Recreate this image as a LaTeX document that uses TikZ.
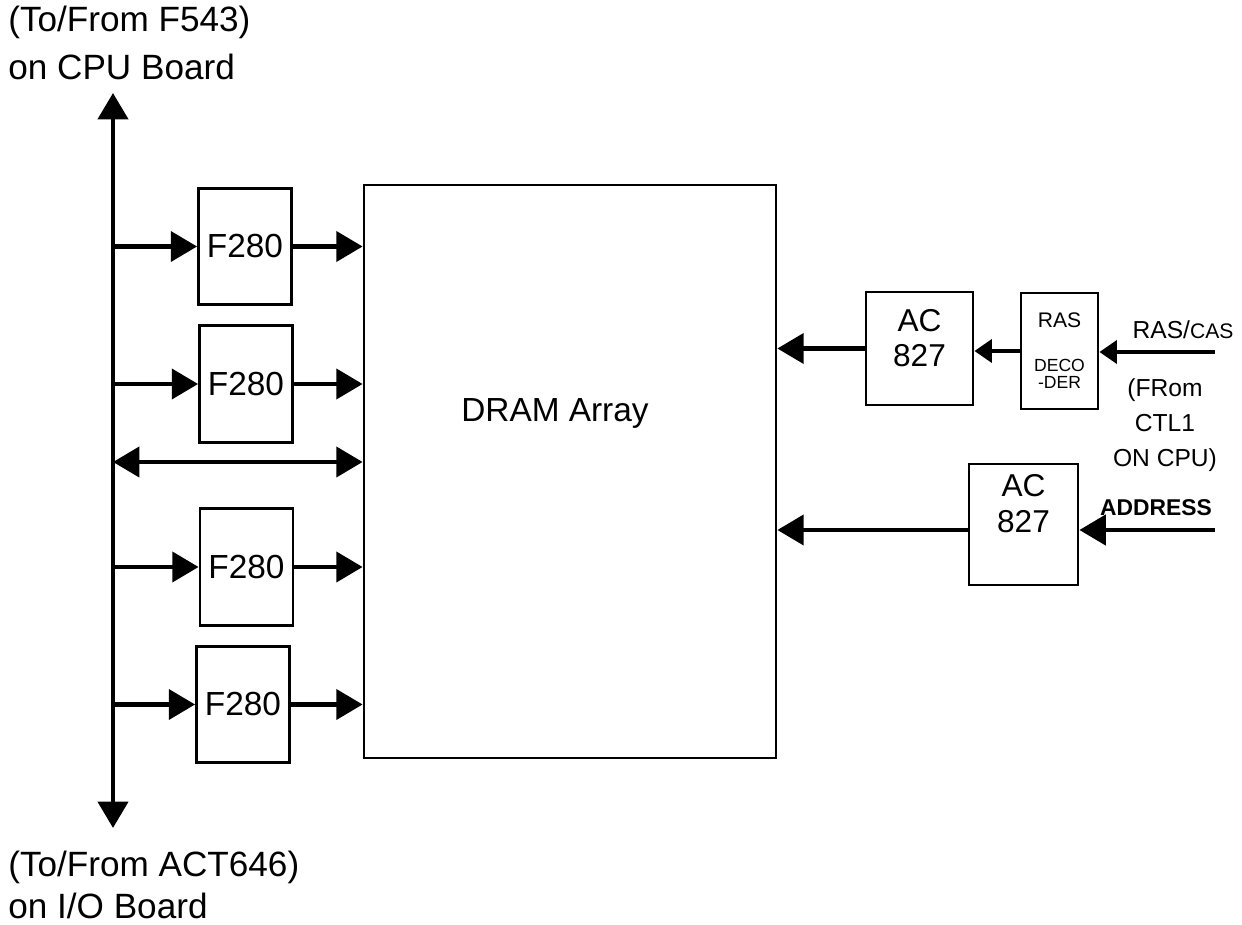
\documentclass[tikz,border=0pt]{standalone}
\usepackage{fontspec}
\setmainfont{Liberation Sans}
\usetikzlibrary{arrows.meta}
\tikzset{
  chip/.style={draw, line width=1.6pt, inner sep=0pt, align=center},
  wire/.style={line width=2.6pt, -{Triangle[length=15pt,width=17pt]}},
  thinwire/.style={line width=2.6pt, -{Triangle[length=10pt,width=13pt]}},
  hand/.style={font=\fontsize{14}{20}\selectfont, align=center, inner sep=0pt},
  note/.style={align=left, inner sep=0pt, anchor=north west},
}
\begin{document}
\begin{tikzpicture}[x=0.02cm, y=-0.02cm, every node/.style={font=\fontsize{19}{22}\selectfont}]
\useasboundingbox (0,0) rectangle (1242,925);
% bus to the CPU board and the I/O board
\coordinate (bustop) at (113,93);
\coordinate (busbot) at (113,828);
\draw[wire, {Triangle[length=15pt,width=17pt]}-{Triangle[length=15pt,width=17pt]}] (bustop) -- (busbot);
\node[note, font=\fontsize{20}{27.3}\selectfont] (cpunote) at (8,6) {(To/From F543)\\on CPU Board};
\node[note, font=\fontsize{20}{23.5}\selectfont] (ionote) at (8,851) {(To/From ACT646)\\on I/O Board};
% memory
\node[chip, minimum width=8.24cm, minimum height=11.46cm] (dram) at (570,471.5) {};
\node (dramlbl) at (555,413) {DRAM Array};
% latches between bus and memory
\foreach \i/\x/\y in {1/245/246.5, 2/246/384, 3/246.5/567, 4/243/704.5} {
    \node[chip, minimum width=1.86cm, minimum height=2.33cm] (f\i) at (\x,\y) {F280};
    \draw[wire] (bustop |- f\i) -- (f\i.west);
    \draw[wire] (f\i.east) -- (dram.west |- f\i);
}
\coordinate (tap) at (113,462);
\draw[wire, {Triangle[length=15pt,width=17pt]}-{Triangle[length=15pt,width=17pt]}] (tap) -- (dram.west |- tap);
% RAS/CAS path
\node[chip, minimum width=2.14cm, minimum height=2.26cm, text depth=12pt, font=\fontsize{18}{20}\selectfont] (acone) at (919.5,348.5) {AC\\827};
\node[chip, minimum width=1.54cm, minimum height=2.32cm] (ras) at (1059.5,351)
    {\fontsize{12}{14}\selectfont RAS\\[2.6pt]\fontsize{10}{11}\selectfont DECO\\[-12pt]\fontsize{10}{11}\selectfont -DER};
\coordinate (rasin) at (1215,352);
\draw[wire] (acone.west) -- (dram.east |- acone);
\draw[thinwire] (ras.west) -- (acone.east |- ras);
\draw[thinwire] (rasin) -- (ras.east |- rasin);
\node[hand] (rascas) at (1183,330) {RAS/{\fontsize{12}{14}\selectfont CAS}};
\node[hand] (ctl) at (1165,425) {(FRom\\CTL1\\ON CPU)};
% address path
\node[chip, minimum width=2.18cm, minimum height=2.42cm, text depth=24pt, font=\fontsize{18}{20}\selectfont] (actwo) at (1023.5,524.5) {AC\\827};
\coordinate (addrin) at (1215,530);
\draw[wire] (addrin) -- (actwo.east |- addrin);
\draw[wire] (actwo.west |- addrin) -- (dram.east |- addrin);
\node[hand, font=\fontsize{13}{16}\bfseries] (addr) at (1156,508) {ADDRESS};
\end{tikzpicture}
\end{document}
